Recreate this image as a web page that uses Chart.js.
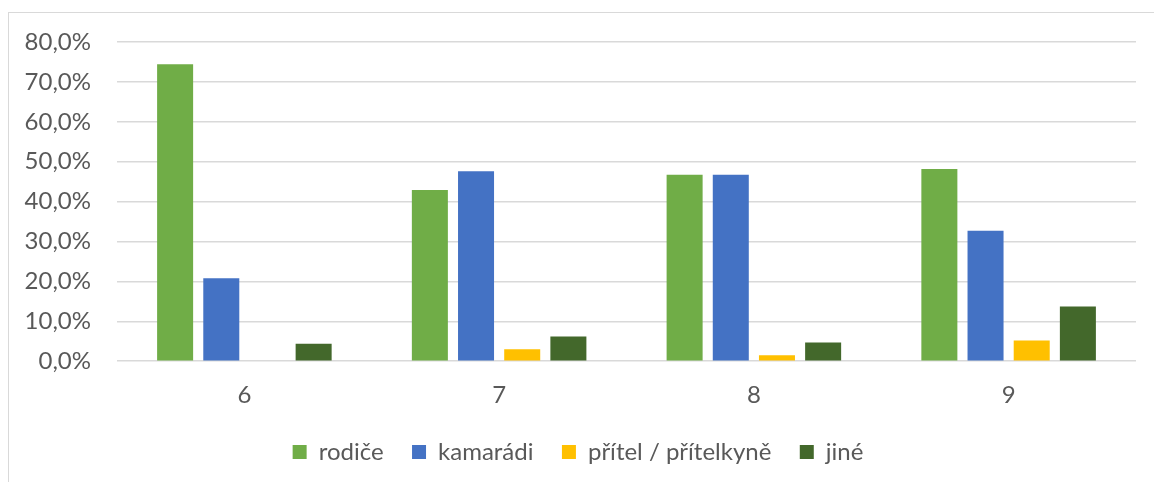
<!DOCTYPE html>
<html lang="cs">
<head>
<meta charset="utf-8">
<script src="https://cdn.jsdelivr.net/npm/chart.js@4"></script>
<style>
  html, body { margin: 0; padding: 0; background: #fff; }
  .wrap { position: relative; width: 1154px; height: 482px; overflow: hidden; }
  .ramecek {
    position: absolute; left: 8px; top: 12px; width: 1200px; height: 520px;
    border: 1px solid #d9d9d9; box-sizing: border-box;
  }
  canvas { position: absolute; left: 0; top: 0; }
</style>
</head>
<body>
<div class="wrap">
  <div class="ramecek"></div>
  <canvas id="graf" width="1154" height="482"></canvas>
</div>
<script>
// ── DATA ─────────────────────────────────────────
const tridy     = ['6', '7', '8', '9'];
const rodice    = [74.4, 42.9, 46.7, 48.2];
const kamaradi  = [20.8, 47.6, 46.7, 32.7];
const pritel    = [0, 3.0, 1.5, 5.2];
const jine      = [4.4, 6.2, 4.7, 13.7];
const osaY      = [0, 10, 20, 30, 40, 50, 60, 70, 80];

const PISMO = 'Lato, "Open Sans", sans-serif';
const SEDA  = '#595959';

function sada(label, data, barva) {
  return {
    label, data,
    backgroundColor: barva,
    borderWidth: 0,
    barPercentage: 0.78,
    categoryPercentage: 0.725,
  };
}

// legenda: víc místa mezi položkami (vodorovně), padding drží výšku
function polozkyLegendy(chart) {
  const zaklad = Chart.defaults.plugins.legend.labels.generateLabels(chart);
  return zaklad.map((p, i) => ({ ...p, text: i < zaklad.length - 1 ? p.text + '   ' : p.text }));
}

new Chart(document.getElementById('graf'), {
  type: 'bar',
  data: {
    labels: tridy,
    datasets: [
      sada('rodiče', rodice, '#70AD47'),
      sada('kamarádi', kamaradi, '#4472C4'),
      sada('přítel / přítelkyně', pritel, '#FFC000'),
      sada('jiné', jine, '#43682B'),
    ],
  },
  options: {
    responsive: false,
    animation: false,
    layout: { padding: { left: 20, right: 18, top: 42, bottom: 8 } },
    plugins: {
      tooltip: { enabled: false },
      legend: {
        position: 'bottom',
        labels: {
          color: SEDA,
          font: { family: PISMO, size: 24 },
          boxWidth: 14,
          boxHeight: 14,
          padding: 10,
          generateLabels: polozkyLegendy,
        },
      },
    },
    scales: {
      x: {
        grid: { display: false, drawTicks: false },
        border: { display: false },
        ticks: { color: SEDA, font: { family: PISMO, size: 24 }, padding: 20 },
      },
      y: {
        min: 0, max: 80,
        afterFit: s => { s.width = 97; },
        afterBuildTicks: s => { s.ticks = osaY.map(v => ({ value: v })); },
        grid: { color: '#d9d9d9', lineWidth: 1.5, drawTicks: false },
        border: { display: false },
        ticks: {
          color: SEDA,
          font: { family: PISMO, size: 24 },
          padding: 26,
          callback: v => v.toFixed(1).replace('.', ',') + '%',
        },
      },
    },
  },
});
</script>
</body>
</html>
